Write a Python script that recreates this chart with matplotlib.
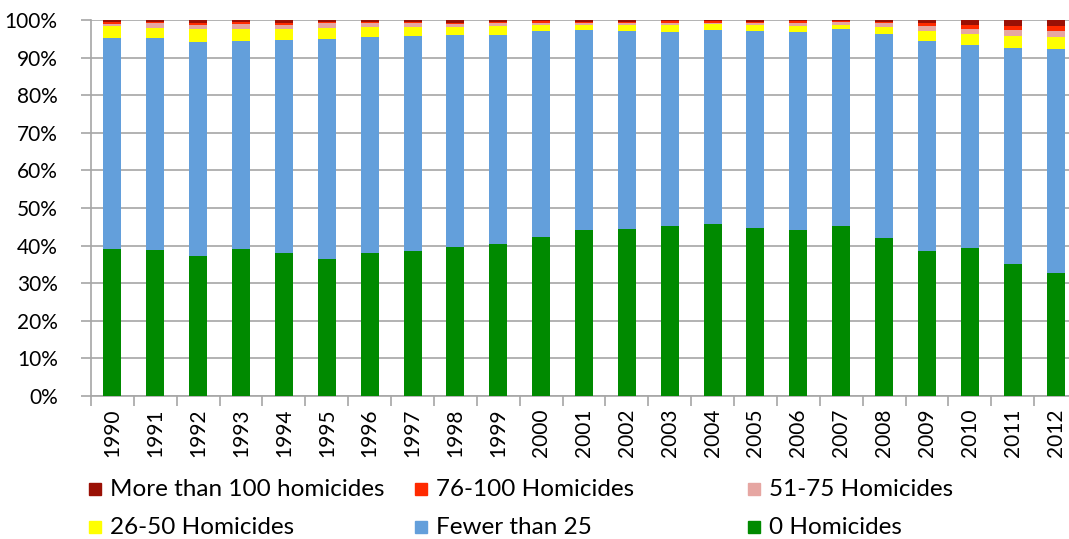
import numpy as np
import matplotlib.pyplot as plt
from matplotlib.patches import Rectangle

plt.rcParams['font.family'] = ['Lato', 'DejaVu Sans']

years = [str(y) for y in range(1990, 2013)]

# shares in percent
zero_hom = [39.0, 38.7, 37.3, 39.0, 38.1, 36.4, 38.0, 38.5, 39.5, 40.4, 42.2, 44.1,
            44.5, 45.3, 45.8, 44.7, 44.3, 45.1, 42.1, 38.5, 39.4, 35.1, 32.8]
fewer_25 = [56.2, 56.5, 56.8, 55.4, 56.6, 58.6, 57.6, 57.2, 56.4, 55.6, 55.0, 53.2,
            52.7, 51.6, 51.7, 52.5, 52.6, 52.4, 54.2, 56.0, 53.9, 57.4, 59.5]
h26_50 = [3.2, 2.75, 3.5, 3.3, 2.9, 2.75, 2.5, 2.4, 2.2, 2.5, 1.5, 1.3,
          1.5, 1.8, 1.5, 1.5, 1.6, 1.2, 1.85, 2.65, 3.1, 3.2, 3.1]
h51_75 = [0.6, 1.1, 1.15, 1.2, 1.15, 1.3, 1.0, 1.0, 0.9, 0.6, 0.6, 0.6,
          0.6, 0.6, 0.3, 0.6, 0.8, 0.8, 1.0, 1.25, 1.3, 1.6, 1.75]
h76_100 = [0.35, 0.3, 0.5, 0.5, 0.5, 0.45, 0.3, 0.45, 0.1, 0.45, 0.45, 0.3,
           0.3, 0.35, 0.45, 0.3, 0.45, 0.2, 0.45, 0.7, 1.0, 1.05, 1.25]
over_100 = [0.6, 0.6, 0.7, 0.6, 0.7, 0.45, 0.6, 0.45, 0.9, 0.45, 0.3, 0.45,
            0.45, 0.35, 0.3, 0.45, 0.3, 0.3, 0.45, 0.9, 1.3, 1.6, 1.6]

series = [
    ('0 Homicides', zero_hom, '#008a00'),
    ('Fewer than 25', fewer_25, '#639fdb'),
    ('26-50 Homicides', h26_50, '#ffff00'),
    ('51-75 Homicides', h51_75, '#e6a6a2'),
    ('76-100 Homicides', h76_100, '#ff2a00'),
    ('More than 100 homicides', over_100, '#9a1005'),
]

# 100% stacked: normalise each year by its total
totals = np.sum([np.array(v) for _, v, _ in series], axis=0)

W, H = 1069, 539
fig = plt.figure(figsize=(W / 100, H / 100), dpi=100)
ax = fig.add_axes([91 / W, 1 - 396 / H, (1077 - 91) / W, (396 - 20) / H])

x = np.arange(len(years))
bottom = np.zeros(len(years))
for name, vals, col in series:
    v = np.array(vals) / totals * 100
    ax.bar(x, v, 0.42, bottom=bottom, color=col, zorder=3)
    bottom += v

ax.set_xlim(-0.5, len(years) - 0.5)
ax.set_ylim(0, 100)
ax.set_yticks(range(0, 101, 10))
ax.set_yticklabels([f'{t}%' for t in range(0, 101, 10)], fontsize=15)
ax.yaxis.grid(True, color='#a6a6a6', linewidth=1.2, zorder=0)

ax.set_xticks(x)
ax.set_xticklabels(years, rotation=90, fontsize=15)
ax.set_xticks(np.arange(-0.5, len(years), 1), minor=True)
ax.tick_params(axis='x', which='major', length=0, pad=9)
ax.tick_params(axis='x', which='minor', length=7, color='#a6a6a6', width=1.2)
ax.tick_params(axis='y', length=7, color='#a6a6a6', width=1.2, pad=17)

for s in ['top', 'right']:
    ax.spines[s].set_visible(False)
for s in ['left', 'bottom']:
    ax.spines[s].set_color('#a6a6a6')
    ax.spines[s].set_linewidth(1.2)

# legend, laid out like the original: two rows of three
order = [5, 4, 3, 2, 1, 0]
xs = [89, 415, 748]
ys = [489, 527]
for i, k in enumerate(order):
    name, _, col = series[k]
    px = xs[i % 3]
    py = ys[i // 3]
    fig.patches.append(Rectangle((px / W, 1 - (py + 6) / H), 12 / W, 12 / H,
                                 transform=fig.transFigure, color=col))
    fig.text((px + 21) / W, 1 - py / H, name, fontsize=17.5, va='center', ha='left')

fig.savefig('out.png', dpi=100)
